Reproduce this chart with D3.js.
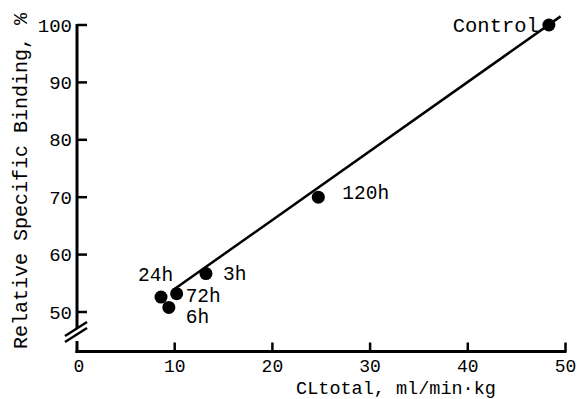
<!DOCTYPE html>
<html>
<head>
<meta charset="utf-8">
<script src="https://cdn.jsdelivr.net/npm/d3@7"></script>
<style>
  body { margin: 0; background: #fff; }
  text { font-family: "Liberation Mono", "DejaVu Sans Mono", monospace; fill: #000; }
</style>
</head>
<body>
<script>
// data
let labels = ["Control", "120h", "3h", "24h", "72h", "6h"];
let clTotal = [48.3, 24.7, 13.2, 8.6, 10.2, 9.4];
let binding = [100, 70, 56.7, 52.6, 53.2, 50.8];
let xTicks = [0, 10, 20, 30, 40, 50];
let yTicks = [50, 60, 70, 80, 90, 100];
// fitted line: binding = 42.0 + 1.202 * CL
let fitX = [9.8, 49.5];
let fitIntercept = 42.0;
let fitSlope = 1.202;

let width = 579;
let height = 399;

let x = d3.scaleLinear().domain([0, 50]).range([77, 565.5]);
let y = d3.scaleLinear().domain([50, 100]).range([312, 25]);
let axisY = 351.5;

let svg = d3
  .select("body")
  .append("svg")
  .attr("width", width)
  .attr("height", height);

// y axis (with break near the bottom)
let yAxis = svg.append("g");
yAxis
  .append("line")
  .attr("x1", x(0)).attr("x2", x(0))
  .attr("y1", y(100) - 1).attr("y2", 328)
  .attr("stroke", "#000").attr("stroke-width", 3);
yAxis
  .append("line")
  .attr("x1", x(0)).attr("x2", x(0))
  .attr("y1", 341).attr("y2", axisY + 1.5)
  .attr("stroke", "#000").attr("stroke-width", 3);
// break slashes
[0, 6].forEach((dy) => {
  yAxis
    .append("line")
    .attr("x1", x(0) - 12).attr("y1", 336 + dy)
    .attr("x2", x(0) + 10).attr("y2", 322 + dy)
    .attr("stroke", "#000").attr("stroke-width", 2.5);
});
yAxis
  .selectAll(".ytick")
  .data(yTicks)
  .join("line")
  .attr("x1", x(0)).attr("x2", x(0) + 10)
  .attr("y1", (d) => y(d)).attr("y2", (d) => y(d))
  .attr("stroke", "#000").attr("stroke-width", 2.5);
yAxis
  .selectAll(".ylab")
  .data(yTicks)
  .join("text")
  .attr("x", x(0) - 5)
  .attr("y", (d) => y(d))
  .attr("dy", "0.35em")
  .attr("text-anchor", "end")
  .attr("font-size", 19)
  .text((d) => d);

// x axis
let xAxis = svg.append("g");
xAxis
  .append("line")
  .attr("x1", x(0) - 1.5).attr("x2", x(50) + 1)
  .attr("y1", axisY).attr("y2", axisY)
  .attr("stroke", "#000").attr("stroke-width", 3);
xAxis
  .selectAll(".xtick")
  .data(xTicks.slice(1))
  .join("line")
  .attr("x1", (d) => x(d)).attr("x2", (d) => x(d))
  .attr("y1", axisY).attr("y2", axisY - 9)
  .attr("stroke", "#000").attr("stroke-width", 2.5);
xAxis
  .selectAll(".xlab")
  .data(xTicks)
  .join("text")
  .attr("x", (d) => x(d) + (d === 0 ? 2 : 0))
  .attr("y", 366)
  .attr("dy", "0.35em")
  .attr("text-anchor", "middle")
  .attr("font-size", 18)
  .text((d) => d);

// axis titles
svg
  .append("text")
  .attr("x", 396)
  .attr("y", 388)
  .attr("dy", "0.35em")
  .attr("text-anchor", "middle")
  .attr("font-size", 18.5)
  .text("CLtotal, ml/min\u00b7kg");

svg
  .append("text")
  .attr("transform", "translate(20,181) rotate(-90)")
  .attr("dy", "0.35em")
  .attr("text-anchor", "middle")
  .attr("font-size", 20)
  .text("Relative Specific Binding, %");

// regression line
svg
  .append("line")
  .attr("x1", x(fitX[0]))
  .attr("y1", y(fitIntercept + fitSlope * fitX[0]))
  .attr("x2", x(fitX[1]))
  .attr("y2", y(fitIntercept + fitSlope * fitX[1]))
  .attr("stroke", "#000")
  .attr("stroke-width", 2.5);

// points
svg
  .selectAll(".pt")
  .data(clTotal)
  .join("circle")
  .attr("cx", (d) => x(d))
  .attr("cy", (d, i) => y(binding[i]))
  .attr("r", 6.5)
  .attr("fill", "#000");

// point labels
let labelPos = {
  Control: { dx: -10, dy: 0, anchor: "end" },
  "120h": { dx: 24, dy: -5, anchor: "start" },
  "3h": { dx: 17, dy: 0, anchor: "start" },
  "24h": { dx: -23, dy: -23, anchor: "start" },
  "72h": { dx: 9, dy: 2, anchor: "start" },
  "6h": { dx: 17, dy: 9, anchor: "start" },
};
svg
  .selectAll(".lab")
  .data(labels)
  .join("text")
  .attr("x", (d, i) => x(clTotal[i]) + labelPos[d].dx)
  .attr("y", (d, i) => y(binding[i]) + labelPos[d].dy)
  .attr("dy", "0.35em")
  .attr("text-anchor", (d) => labelPos[d].anchor)
  .attr("font-size", (d) => (d === "Control" ? 20.5 : 19.5))
  .text((d) => d);
</script>
</body>
</html>
